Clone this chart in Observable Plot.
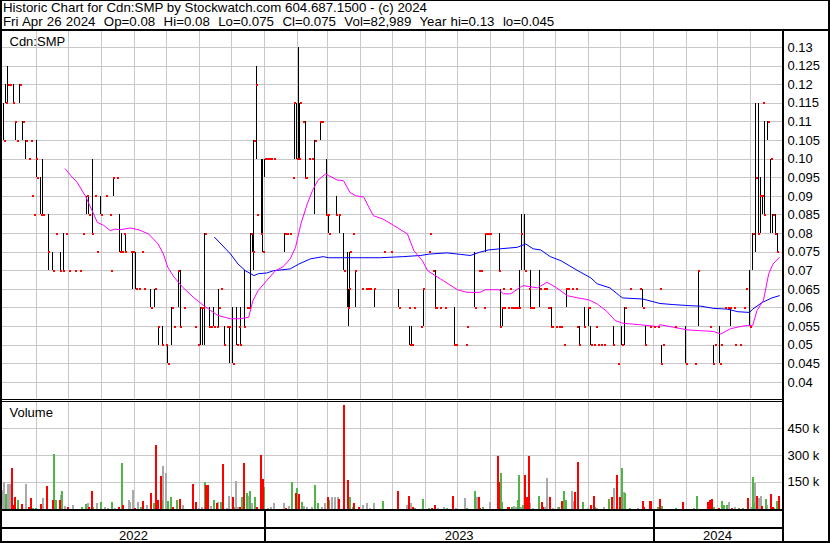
<!DOCTYPE html>
<html><head><meta charset="utf-8">
<script src="https://cdn.jsdelivr.net/npm/d3@7"></script>
<script src="https://cdn.jsdelivr.net/npm/@observablehq/plot@0.6"></script>
<style>
body{margin:0;background:#fff;}
#chart{position:relative;width:830px;height:543px;font-family:Arial,"Liberation Sans",sans-serif;color:#000;overflow:hidden;background:#fff;}
.ln{position:absolute;background:#000;}
.hdr{position:absolute;left:3px;font-size:13.3px;line-height:14px;white-space:pre;}
.plot{position:absolute;left:0;}
</style></head><body><div id="chart"></div><script>
const titleLine = "Historic Chart for Cdn:SMP by Stockwatch.com 604.687.1500 - (c) 2024";
const quoteLine = "Fri Apr 26 2024  Op=0.08  Hi=0.08  Lo=0.075  Cl=0.075  Vol=82,989  Year hi=0.13  lo=0.045";
const symbolLabel = "Cdn:SMP";
const volumeLabel = "Volume";
const priceTicks = [0.04,0.045,0.05,0.055,0.06,0.065,0.07,0.075,0.08,0.085,0.09,0.095,0.10,0.105,0.11,0.115,0.12,0.125,0.13];
const priceTickLabels = ["0.04","0.045","0.05","0.055","0.06","0.065","0.07","0.075","0.08","0.085","0.09","0.095","0.10","0.105","0.11","0.115","0.12","0.125","0.13"];
const volumeTicks = [150000,300000,450000];
const volumeTickLabels = ["150 k","300 k","450 k"];
const years = [2022, 2023, 2024];
const startDate = "2022-04-30", endDate = "2024-04-30";

// [date, high, low, close] ; [date, close] when only a close tick is drawn
const bars = [
["2022-05-01",.115,.105,.105],["2022-05-03",.12,.115,.115],["2022-05-05",.125,.115,.12],["2022-05-07",.12],
["2022-05-10",.12,.115,.115],["2022-05-12",.11,.105,.11],["2022-05-14",.105],["2022-05-16",.12,.115,.12],
["2022-05-19",.11,.105,.11],["2022-05-22",.105,.10,.105],["2022-05-25",.10],["2022-05-27",.105],["2022-05-28",.09],
["2022-05-30",.085],["2022-05-31",.10],["2022-06-01",.105,.095,.095],["2022-06-05",.095,.085,.085],["2022-06-07",.10,.085,.085],
["2022-06-12",.085,.07,.075],["2022-06-16",.075,.07,.07],["2022-06-19",.08],["2022-06-23",.075,.07,.07],["2022-06-26",.08,.07,.07],
["2022-06-29",.08],["2022-07-01",.07],["2022-07-07",.07],["2022-07-12",.07],["2022-07-15",.08],["2022-07-18",.09,.085,.09],
["2022-07-20",.09,.085,.085],["2022-07-23",.10,.08,.08],["2022-07-26",.09],["2022-07-28",.075],["2022-07-31",.09,.085,.085],
["2022-08-05",.09],["2022-08-09",.085],["2022-08-10",.07],["2022-08-12",.095,.09,.095],["2022-08-15",.095],
["2022-08-18",.085,.075,.075],["2022-08-20",.08,.075,.075],["2022-08-22",.08],["2022-08-23",.08,.075,.075],["2022-08-29",.075],
["2022-08-30",.075,.065,.075],["2022-09-02",.075,.065,.065],["2022-09-05",.065],["2022-09-08",.075],["2022-09-10",.065],
["2022-09-16",.065,.06,.06],["2022-09-20",.065,.06,.065],["2022-09-23",.055,.05,.055],["2022-09-27",.055,.05,.05],["2022-09-30",.05],
["2022-10-02",.05,.045,.045],["2022-10-06",.06,.05,.06],["2022-10-08",.055],["2022-10-12",.07,.06,.07],["2022-10-14",.07,.055,.055],
["2022-10-17",.06],["2022-10-28",.055],["2022-10-30",.05],["2022-11-02",.06,.05,.06],["2022-11-04",.06,.05,.06],["2022-11-06",.08,.05,.08],
["2022-11-10",.06,.055,.055],["2022-11-12",.055],["2022-11-14",.06,.055,.055],["2022-11-17",.055],["2022-11-19",.065,.055,.06],
["2022-11-21",.065],["2022-11-24",.055,.05,.05],["2022-11-27",.055],["2022-11-29",.055,.045,.055],["2022-12-02",.06,.045,.045],
["2022-12-06",.06,.05,.05],["2022-12-08",.055],["2022-12-09",.06,.05,.05],["2022-12-13",.07,.055,.055],["2022-12-15",.06],["2022-12-17",.06],
["2022-12-19",.08,.06,.08],["2022-12-21",.08,.075,.075],["2022-12-22",.105,.07,.105],["2022-12-24",.125,.10,.12],["2022-12-25",.085],
["2022-12-29",.10,.08,.08],["2022-12-30",.10,.075,.075],["2023-01-01",.10,.095,.10],["2023-01-03",.10],["2023-01-05",.10],["2023-01-07",.10],
["2023-01-10",.10],["2023-01-20",.08,.075,.08],["2023-01-21",.08],["2023-01-22",.08],["2023-01-25",.08],["2023-01-28",.095],
["2023-01-29",.115,.10,.115],["2023-01-31",.115,.10,.10],["2023-02-02",.13,.10,.10],["2023-02-03",.115,.10,.115],["2023-02-06",.11],
["2023-02-08",.11,.095,.095],["2023-02-09",.095],["2023-02-12",.10],["2023-02-14",.10],["2023-02-17",.105,.085,.105],["2023-02-22",.11,.105,.11],
["2023-02-24",.11],["2023-02-28",.10,.085,.085],["2023-03-01",.085],["2023-03-02",.085,.08,.08],["2023-03-09",.09,.085,.085],
["2023-03-12",.085,.08,.085],["2023-03-16",.08,.07,.07],["2023-03-20",.075,.06,.06],["2023-03-21",.065,.055,.065],["2023-03-22",.075,.06,.075],
["2023-03-25",.08],["2023-03-27",.07,.06,.07],["2023-04-02",.065],["2023-04-06",.065],["2023-04-08",.065],["2023-04-10",.065],
["2023-04-14",.065,.06,.065],["2023-04-23",.075],["2023-04-30",.075],["2023-05-07",.065,.06,.06],["2023-05-16",.06],["2023-05-17",.055,.05,.05],
["2023-05-19",.055,.05,.05],["2023-05-21",.06],["2023-05-28",.055],["2023-05-30",.065,.055,.065],["2023-06-04",.075],["2023-06-05",.08],
["2023-06-08",.07],["2023-06-10",.07,.06,.06],["2023-06-11",.06],["2023-06-15",.06],["2023-06-19",.06],["2023-06-28",.06,.05,.05],
["2023-06-30",.05],["2023-07-09",.05],["2023-07-10",.055],["2023-07-17",.075,.06,.06],["2023-07-21",.07],["2023-07-23",.07],["2023-07-26",.06],
["2023-07-27",.08,.075,.08],["2023-07-28",.08],["2023-07-30",.08],["2023-07-31",.08],["2023-08-09",.08,.07,.07],["2023-08-10",.065,.055,.055],
["2023-08-12",.06,.055,.06],["2023-08-13",.065],["2023-08-14",.06],["2023-08-17",.06],["2023-08-19",.065],["2023-08-20",.06],["2023-08-22",.06],
["2023-08-24",.06],["2023-08-26",.06],["2023-08-28",.07,.06,.06],["2023-08-30",.085,.07,.08],["2023-09-02",.085,.07,.07],["2023-09-06",.065],
["2023-09-07",.07,.06,.06],["2023-09-08",.06],["2023-09-10",.06],["2023-09-16",.07,.06,.065],["2023-09-20",.065],["2023-09-22",.065],
["2023-09-24",.06],["2023-09-25",.06],["2023-09-27",.06,.055,.055],["2023-09-28",.055],["2023-10-01",.055],["2023-10-04",.055],["2023-10-06",.055],
["2023-10-09",.05],["2023-10-11",.065,.06,.065],["2023-10-13",.065],["2023-10-16",.065],["2023-10-20",.065],["2023-10-21",.055],
["2023-10-23",.055,.05,.05],["2023-10-28",.06,.055,.055],["2023-10-31",.06],["2023-11-01",.06,.055,.06],["2023-11-03",.055,.05,.05],
["2023-11-06",.05],["2023-11-08",.055],["2023-11-10",.05],["2023-11-13",.05],["2023-11-15",.05],["2023-11-24",.055,.05,.05],["2023-11-29",.045],
["2023-12-02",.055,.05,.05],["2023-12-05",.06,.05,.06],["2023-12-10",.065],["2023-12-19",.065],["2023-12-22",.065,.06,.06],["2023-12-24",.055,.05,.05],
["2023-12-29",.055],["2024-01-01",.055],["2024-01-05",.055],["2024-01-07",.065],["2024-01-08",.05,.045,.045],["2024-01-10",.05],["2024-01-21",.055],
["2024-01-31",.055,.045,.045],["2024-02-09",.045],["2024-02-12",.07,.055,.07],["2024-02-23",.055],["2024-02-26",.05,.045,.045],["2024-02-28",.05],
["2024-03-03",.055,.045,.045],["2024-03-04",.05],["2024-03-08",.06],["2024-03-11",.06],["2024-03-13",.06,.055,.06],["2024-03-16",.06],
["2024-03-17",.05],["2024-03-22",.05],["2024-03-26",.06],["2024-03-28",.065],["2024-03-31",.07,.055,.055],["2024-04-03",.08,.07,.08],
["2024-04-06",.115,.075,.095],["2024-04-08",.115,.08,.08],["2024-04-10",.095,.08,.09],["2024-04-12",.09,.085,.09],["2024-04-13",.115],
["2024-04-14",.11,.085,.085],["2024-04-17",.11,.105,.11],["2024-04-20",.10,.08,.10],["2024-04-22",.085,.08,.085],["2024-04-24",.085,.08,.08],
["2024-04-26",.08,.075,.075]
];

// short moving average (magenta)
const maShort = [
["2022-06-28",.0974],["2022-07-03",.0956],["2022-07-09",.0938],["2022-07-17",.090],["2022-07-23",.0862],["2022-07-28",.083],["2022-08-03",.0822],
["2022-08-09",.0808],["2022-08-14",.0812],["2022-08-18",.081],["2022-08-28",.0815],["2022-09-05",.081],["2022-09-14",.0799],["2022-09-23",.0772],
["2022-09-28",.0745],["2022-10-02",.071],["2022-10-08",.0683],["2022-10-16",.0656],["2022-10-26",.0629],["2022-11-05",.0606],["2022-11-18",.058],
["2022-11-30",.0571],["2022-12-09",.0571],["2022-12-17",.0575],["2022-12-21",.062],["2022-12-26",.0647],["2023-01-03",.0674],["2023-01-11",.07],
["2023-01-18",.071],["2023-01-25",.0732],["2023-01-30",.0763],["2023-02-04",.0826],["2023-02-10",.088],["2023-02-15",.0916],["2023-02-20",.0943],
["2023-02-27",.096],["2023-03-02",.0956],["2023-03-10",.0944],["2023-03-16",.0942],["2023-03-22",.0911],["2023-03-27",.0902],["2023-04-04",.0898],
["2023-04-08",.0875],["2023-04-13",.0848],["2023-04-22",.0839],["2023-05-02",.0822],["2023-05-15",.0799],["2023-05-21",.0754],["2023-05-29",.0727],
["2023-06-03",.07],["2023-06-15",.0678],["2023-07-01",.0649],["2023-07-10",.0642],["2023-07-22",.0642],["2023-07-27",.0649],["2023-08-09",.0649],
["2023-08-13",.0638],["2023-08-20",.0638],["2023-08-29",.0656],["2023-09-01",.066],["2023-09-14",.0654],["2023-09-23",.0669],["2023-10-01",.0656],
["2023-10-12",.0633],["2023-10-22",.0627],["2023-11-01",.0622],["2023-11-09",.0611],["2023-11-18",.0591],["2023-11-26",.0566],["2023-12-03",.0559],
["2023-12-19",.0555],["2024-01-05",.055],["2024-01-07",.0555],["2024-01-20",.0548],["2024-02-02",.0541],["2024-02-14",.0539],["2024-02-26",.0537],
["2024-03-04",.053],["2024-03-13",.0544],["2024-03-22",.055],["2024-03-29",.0553],["2024-04-03",.0553],["2024-04-07",.0593],["2024-04-13",.062],
["2024-04-18",.0692],["2024-04-22",.0718],["2024-04-28",.0736]
];

// long moving average (blue)
const maLong = [
["2022-11-15",.079],["2022-11-21",.0772],["2022-11-30",.0745],["2022-12-07",.0718],["2022-12-14",.07],["2022-12-19",.0692],["2022-12-22",.0687],
["2022-12-26",.0692],["2023-01-03",.0694],["2023-01-09",.07],["2023-01-25",.0705],["2023-02-02",.0718],["2023-02-13",.0732],["2023-02-25",.0738],
["2023-03-02",.0735],["2023-03-22",.0735],["2023-04-19",.0735],["2023-05-11",.0738],["2023-05-27",.0741],["2023-06-05",.0745],["2023-06-21",.0748],
["2023-07-04",.0744],["2023-07-13",.0741],["2023-07-22",.075],["2023-07-30",.0756],["2023-08-10",.0759],["2023-08-26",.0763],["2023-09-03",.0772],
["2023-09-10",.0759],["2023-09-17",.0756],["2023-09-26",.0738],["2023-10-06",.0727],["2023-10-22",.07],["2023-11-03",.0681],["2023-11-09",.0665],
["2023-11-21",.0654],["2023-11-30",.0633],["2023-12-03",.0627],["2023-12-22",.0624],["2024-01-07",.0612],["2024-01-20",.0609],["2024-02-05",.0606],
["2024-02-14",.0605],["2024-02-26",.0599],["2024-03-10",.0597],["2024-03-20",.059],["2024-03-31",.0588],["2024-04-03",.0597],["2024-04-12",.0615],
["2024-04-21",.0627],["2024-04-28",.0633]
];

// [date, volume in thousands, r=down g=up n=unchanged]
const volume = [
["2022-04-30",102,"n"],["2022-05-01",147,"n"],["2022-05-03",79,"g"],["2022-05-05",136,"n"],["2022-05-07",136,"n"],["2022-05-09",226,"r"],
["2022-05-11",20,"r"],["2022-05-12",62,"r"],["2022-05-15",45,"g"],["2022-05-18",23,"r"],["2022-05-22",136,"n"],["2022-05-25",8,"r"],
["2022-05-27",57,"r"],["2022-05-29",5,"g"],["2022-05-31",5,"g"],["2022-06-05",23,"r"],["2022-06-07",60,"n"],["2022-06-11",125,"r"],
["2022-06-16",45,"r"],["2022-06-17",306,"g"],["2022-06-19",45,"g"],["2022-06-23",45,"r"],["2022-06-24",73,"n"],["2022-06-25",96,"g"],
["2022-06-28",15,"n"],["2022-06-30",8,"r"],["2022-07-05",20,"n"],["2022-07-14",8,"g"],["2022-07-17",23,"g"],["2022-07-19",28,"n"],
["2022-07-20",8,"r"],["2022-07-23",96,"r"],["2022-07-24",8,"g"],["2022-07-28",28,"n"],["2022-07-31",34,"g"],["2022-08-04",8,"n"],
["2022-08-07",5,"n"],["2022-08-11",34,"g"],["2022-08-14",5,"n"],["2022-08-17",8,"r"],["2022-08-20",255,"g"],["2022-08-21",20,"r"],
["2022-08-27",45,"n"],["2022-08-28",34,"n"],["2022-08-30",102,"n"],["2022-09-01",5,"r"],["2022-09-04",34,"n"],["2022-09-07",8,"g"],
["2022-09-09",40,"r"],["2022-09-13",20,"n"],["2022-09-16",85,"r"],["2022-09-19",28,"g"],["2022-09-21",357,"r"],["2022-09-23",45,"r"],
["2022-09-26",181,"r"],["2022-09-27",45,"g"],["2022-09-28",238,"n"],["2022-09-30",198,"n"],["2022-10-02",40,"g"],["2022-10-05",62,"g"],
["2022-10-07",8,"r"],["2022-10-11",45,"g"],["2022-10-14",51,"r"],["2022-10-16",20,"n"],["2022-10-26",136,"r"],["2022-10-29",34,"r"],
["2022-10-31",5,"n"],["2022-11-03",8,"n"],["2022-11-06",147,"g"],["2022-11-07",130,"r"],["2022-11-09",130,"r"],["2022-11-12",15,"n"],
["2022-11-14",45,"g"],["2022-11-17",28,"r"],["2022-11-18",34,"n"],["2022-11-21",34,"g"],["2022-11-23",249,"r"],["2022-11-27",5,"n"],
["2022-11-29",68,"n"],["2022-12-02",62,"r"],["2022-12-03",8,"g"],["2022-12-05",153,"n"],["2022-12-07",8,"n"],["2022-12-09",8,"r"],
["2022-12-11",62,"g"],["2022-12-13",255,"r"],["2022-12-15",85,"g"],["2022-12-16",68,"n"],["2022-12-18",96,"g"],["2022-12-20",28,"n"],
["2022-12-23",62,"g"],["2022-12-25",8,"r"],["2022-12-29",300,"r"],["2022-12-30",164,"r"],["2022-12-31",119,"g"],
["2023-01-04",5,"n"],["2023-01-07",8,"n"],["2023-01-10",28,"n"],["2023-01-19",28,"n"],["2023-01-21",5,"r"],["2023-01-24",15,"n"],
["2023-01-27",147,"g"],["2023-01-30",85,"r"],["2023-01-31",113,"g"],["2023-02-02",79,"r"],["2023-02-05",34,"g"],["2023-02-07",15,"n"],
["2023-02-10",8,"n"],["2023-02-14",8,"n"],["2023-02-17",130,"g"],["2023-02-20",28,"g"],["2023-02-24",8,"n"],["2023-02-27",28,"n"],
["2023-03-01",62,"r"],["2023-03-02",45,"g"],["2023-03-05",62,"n"],["2023-03-08",62,"n"],["2023-03-11",62,"n"],["2023-03-12",51,"r"],
["2023-03-16",577,"r"],["2023-03-20",158,"r"],["2023-03-22",62,"g"],["2023-03-25",8,"g"],["2023-03-26",28,"r"],["2023-03-31",8,"r"],
["2023-04-03",20,"n"],["2023-04-07",28,"n"],["2023-04-10",5,"n"],["2023-04-14",28,"n"],["2023-04-22",40,"g"],["2023-05-06",96,"r"],
["2023-05-15",20,"n"],["2023-05-16",68,"r"],["2023-05-18",28,"n"],["2023-05-20",8,"r"],["2023-05-22",5,"g"],["2023-05-30",51,"g"],
["2023-06-04",5,"g"],["2023-06-07",5,"r"],["2023-06-10",20,"r"],["2023-06-13",5,"n"],["2023-06-18",8,"n"],["2023-06-21",5,"g"],
["2023-06-27",68,"r"],["2023-06-30",5,"n"],["2023-07-08",57,"n"],["2023-07-10",5,"g"],["2023-07-17",96,"g"],["2023-07-19",62,"n"],
["2023-07-21",62,"r"],["2023-07-22",5,"r"],["2023-07-25",8,"g"],["2023-07-31",34,"n"],["2023-08-08",294,"r"],["2023-08-09",147,"r"],
["2023-08-11",198,"g"],["2023-08-12",34,"g"],["2023-08-17",8,"r"],["2023-08-18",8,"r"],["2023-08-21",8,"g"],["2023-08-23",15,"n"],
["2023-08-25",8,"n"],["2023-08-27",45,"g"],["2023-08-28",187,"g"],["2023-08-30",8,"n"],["2023-08-31",20,"g"],["2023-09-02",187,"r"],
["2023-09-04",62,"r"],["2023-09-06",294,"r"],["2023-09-07",28,"n"],["2023-09-10",5,"n"],["2023-09-15",68,"g"],["2023-09-18",34,"r"],
["2023-09-19",8,"r"],["2023-09-21",8,"n"],["2023-09-23",170,"n"],["2023-09-26",62,"r"],["2023-09-29",5,"n"],["2023-10-03",8,"n"],
["2023-10-04",8,"g"],["2023-10-07",40,"r"],["2023-10-09",96,"g"],["2023-10-11",45,"g"],["2023-10-16",96,"n"],["2023-10-17",40,"n"],
["2023-10-19",91,"r"],["2023-10-22",260,"r"],["2023-10-27",34,"g"],["2023-10-31",5,"n"],["2023-11-03",20,"r"],["2023-11-06",68,"r"],
["2023-11-07",8,"g"],["2023-11-09",5,"n"],["2023-11-15",8,"n"],["2023-11-20",51,"g"],["2023-11-23",62,"r"],["2023-11-25",113,"n"],
["2023-11-28",187,"r"],["2023-11-30",62,"r"],["2023-12-02",226,"g"],["2023-12-04",91,"n"],["2023-12-05",85,"g"],["2023-12-10",5,"g"],
["2023-12-17",5,"n"],["2023-12-22",40,"r"],["2023-12-23",8,"r"],["2023-12-29",40,"r"],["2023-12-30",40,"r"],
["2024-01-05",8,"g"],["2024-01-07",51,"r"],["2024-01-09",15,"g"],["2024-01-22",5,"g"],["2024-01-29",34,"r"],["2024-02-08",5,"n"],
["2024-02-11",68,"g"],["2024-02-21",34,"r"],["2024-02-23",45,"r"],["2024-02-25",51,"r"],["2024-02-27",8,"g"],["2024-03-02",5,"r"],
["2024-03-05",40,"g"],["2024-03-07",20,"g"],["2024-03-10",20,"g"],["2024-03-12",34,"n"],["2024-03-15",5,"r"],["2024-03-17",8,"n"],
["2024-03-21",5,"g"],["2024-03-25",5,"g"],["2024-03-30",57,"r"],["2024-04-01",8,"n"],["2024-04-03",175,"g"],["2024-04-04",28,"g"],
["2024-04-05",141,"n"],["2024-04-07",68,"r"],["2024-04-09",57,"n"],["2024-04-11",68,"n"],["2024-04-12",15,"r"],["2024-04-15",51,"g"],
["2024-04-16",20,"n"],["2024-04-20",79,"r"],["2024-04-22",8,"r"],["2024-04-23",5,"g"],["2024-04-26",40,"g"],["2024-04-28",68,"r"]
];

const parse = d3.utcParse("%Y-%m-%d");
const xDomain = [parse(startDate), parse(endDate)];
const xRange = [2, 781];
const FONT = 'Arial, "Liberation Sans", sans-serif';
const GRID = "#c8c8c8";
const VOLCOL = {r: "#ff0000", g: "#4fb548", n: "#a9a9a9"};
const months = d3.utcMonth.range(parse("2022-06-01"), xDomain[1]);
const priceLabel = new Map(priceTicks.map((t, i) => [t, priceTickLabels[i]]));
const volLabel = new Map(volumeTicks.map((t, i) => [t, volumeTickLabels[i]]));
const xOpt = {type: "utc", domain: xDomain, range: xRange, axis: null};
const baseStyle = {fontFamily: FONT, fontSize: "13px", color: "#000", background: "transparent", overflow: "visible"};
const dateOf = d => parse(d[0]);
const crisp = {shapeRendering: "crispEdges"};

const chart = document.getElementById("chart");
function place(el, top) { el.classList.add("plot"); el.style.top = top + "px"; chart.appendChild(el); }

// header
for (const [txt, top, ws] of [[titleLine, 1, 0], [quoteLine, 15, 0.5]]) {
  const d = document.createElement("div"); d.className = "hdr"; d.style.top = top + "px"; d.style.wordSpacing = ws + "px"; d.textContent = txt; chart.appendChild(d);
}

// price panel
const rangeBars = bars.filter(b => b.length === 4);
const pricePlot = Plot.plot({
  width: 830, height: 368, marginLeft: 2, marginRight: 48, marginTop: 0, marginBottom: 0,
  style: baseStyle,
  x: xOpt,
  y: {domain: [0.04, 0.13], range: [350.9, 16], axis: null},
  marks: [
    Plot.ruleY(priceTicks, {stroke: GRID, ...crisp}),
    Plot.ruleX(months, {stroke: GRID, ...crisp}),
    Plot.ruleX(rangeBars, {x: dateOf, y1: d => d[2], y2: d => d[1], stroke: "#000", strokeWidth: 1, ...crisp}),
    Plot.line(maLong, {x: dateOf, y: d => d[1], stroke: "#0000ff", strokeWidth: 1}),
    Plot.line(maShort, {x: dateOf, y: d => d[1], stroke: "#ff00ff", strokeWidth: 1}),
    Plot.dot(bars, {x: dateOf, y: d => d[d.length - 1], symbol: "square", r: 1.13, fill: "#ff0000", dx: 1, ...crisp}),
    Plot.axisY(priceTicks, {anchor: "right", tickSize: 0, tickPadding: 5, tickFormat: d => priceLabel.get(d), fontSize: 13, fill: "#000", label: null}),
    Plot.text([symbolLabel], {frameAnchor: "top-left", dx: 7, dy: 10.5, textAnchor: "start", lineAnchor: "middle", fontSize: 13, fill: "#000"})
  ]
});
place(pricePlot, 31);

// volume panel
const volPlot = Plot.plot({
  width: 830, height: 110, marginLeft: 2, marginRight: 48, marginTop: 2, marginBottom: 1,
  style: baseStyle,
  x: xOpt,
  y: {domain: [0, 600000], range: [108.5, 1.17], axis: null},
  marks: [
    Plot.ruleY(volumeTicks, {stroke: GRID, ...crisp}),
    Plot.ruleX(months, {stroke: GRID, ...crisp}),
    ...["n", "g", "r"].map(k => Plot.ruleX(volume.filter(v => v[2] === k), {x: dateOf, y1: 0, y2: d => d[1] * 1000, stroke: VOLCOL[k], strokeWidth: 2, ...crisp})),
    Plot.axisY(volumeTicks, {anchor: "right", tickSize: 0, tickPadding: 5, tickFormat: d => volLabel.get(d), fontSize: 13, fill: "#000", label: null}),
    Plot.text([volumeLabel], {frameAnchor: "top-left", dx: 7, dy: 10.8, textAnchor: "start", lineAnchor: "middle", fontSize: 13, fill: "#000"})
  ]
});
place(volPlot, 400);

// bottom year row
const yearStarts = years.slice(1).map(y => new Date(Date.UTC(y, 0, 1)));
const yearMid = y => {
  const a = Math.max(+xDomain[0], Date.UTC(y, 0, 1)), b = Math.min(+xDomain[1], Date.UTC(y + 1, 0, 1));
  return new Date((a + b) / 2);
};
const yearPlot = Plot.plot({
  width: 830, height: 33, marginLeft: 2, marginRight: 48, marginTop: 0, marginBottom: 0,
  style: baseStyle,
  x: xOpt,
  y: {axis: null},
  marks: [
    Plot.ruleX(yearStarts, {stroke: "#000", strokeWidth: 2, ...crisp}),
    Plot.text(years, {x: yearMid, text: d => String(d), frameAnchor: "top", dy: 25.8, lineAnchor: "middle", fontSize: 13, fill: "#000"})
  ]
});
place(yearPlot, 510);

// frame lines
const lines = [
  [0, 0, 830, 1], [0, 0, 2, 543], [828, 0, 2, 543], [0, 541, 830, 2], [0, 29, 830, 2],
  [782, 31, 2, 512], [0, 399, 782, 1], [0, 401, 782, 1], [0, 509, 782, 2], [0, 527, 782, 2]
];
for (const [l, t, w, h] of lines) {
  const d = document.createElement("div"); d.className = "ln";
  Object.assign(d.style, {left: l + "px", top: t + "px", width: w + "px", height: h + "px"});
  chart.appendChild(d);
}
</script></body></html>
